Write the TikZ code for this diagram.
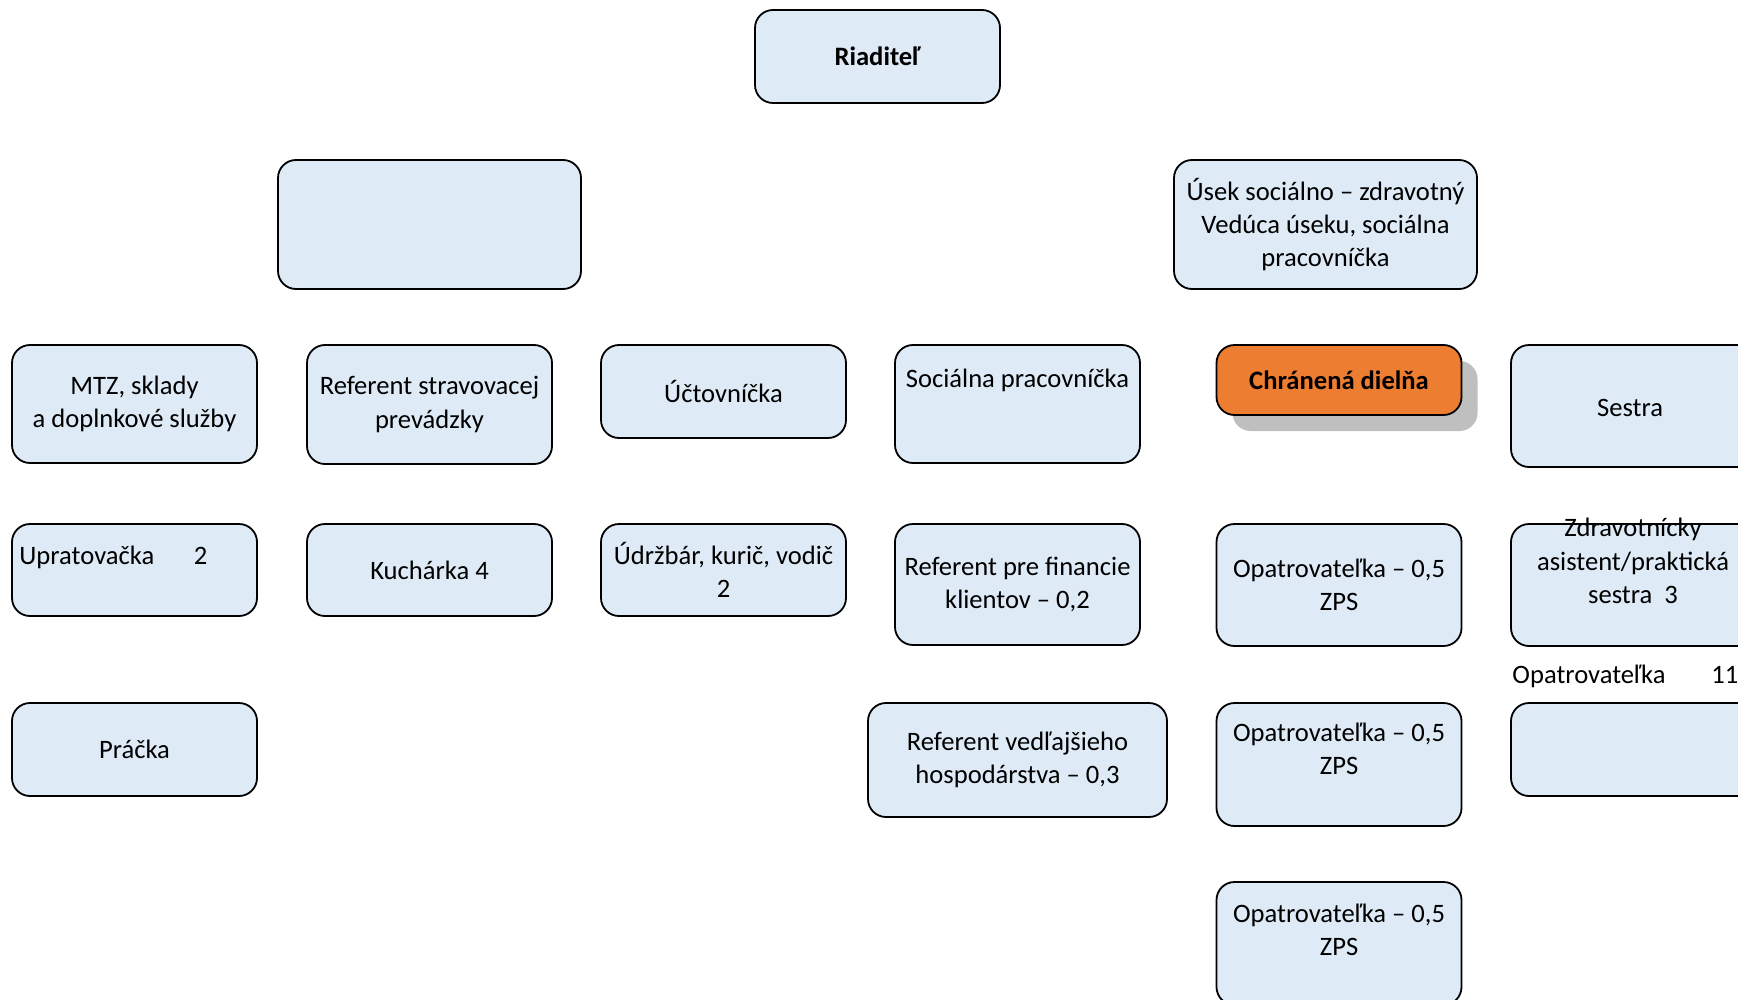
\documentclass[tikz,border=0pt]{standalone}
\usepackage{fontspec}
\setmainfont{Carlito}
\usetikzlibrary{shadows}
\definecolor{boxblue}{RGB}{222,235,247}
\definecolor{dielna}{RGB}{237,125,49}
\definecolor{tien}{RGB}{191,191,191}
\newcommand{\orgfont}{\fontsize{13.3}{16.6}\selectfont}
\begin{document}
\begin{tikzpicture}[x=0.5pt,y=-0.5pt,
    box/.style = {draw, fill=boxblue, line width=0.9pt, rounded corners=9pt,
                  inner sep=0pt, align=center, minimum width=122.5pt, font=\orgfont},
    txt/.style = {align=center, inner sep=0pt, font=\orgfont}]
    \useasboundingbox (0,0) rectangle (1738,1000);

    % vedenie
    \node[box, minimum height=46.5pt, font=\orgfont\bfseries] (riaditel) at (877.5,56.5) {Riaditeľ};
    \node[box, minimum width=151.5pt, minimum height=64.5pt] (ekon) at (429.5,224.5) {};
    \node[box, minimum width=151.5pt, minimum height=64.5pt] (usek) at (1325.5,224.5)
        {Úsek sociálno – zdravotný\\Vedúca úseku, sociálna\\pracovníčka};

    % druhy riadok
    \node[box, minimum height=59pt] (mtz) at (134.5,404) {MTZ, sklady\\a doplnkové služby};
    \node[box, minimum height=59.5pt] (strav) at (429.5,404.5) {Referent stravovacej\\prevádzky};
    \node[box, minimum height=46.5pt] (uctov) at (723.5,391.5) {Účtovníčka};
    \node[box, minimum height=59pt] (socprac) at (1017.5,404) {};
    \node[txt] (socprac-t) at (1017.5,380) {Sociálna pracovníčka};
    \node[box, fill=dielna, minimum height=35pt, font=\orgfont\bfseries,
          drop shadow={shadow xshift=8pt, shadow yshift=-8pt, fill=tien, opacity=1}]
        (dielna) at (1339,380) {Chránená dielňa};
    \node[box, minimum height=61pt] (sestra) at (1633.5,406) {};
    \node[txt] (sestra-t) at (1630,408) {Sestra};

    % treti riadok
    \node[box, minimum height=46pt] (uprat) at (134.5,570) {};
    \node[txt, anchor=west] (uprat-t) at (19,557) {\makebox[94pt][l]{Upratovačka\hfill 2}};
    \node[box, minimum height=46pt] (kuch) at (429.5,570) {Kuchárka 4};
    \node[box, minimum height=46pt] (udrz) at (723.5,570) {Údržbár, kurič, vodič\\2};
    \node[box, minimum height=60.5pt] (fin) at (1017.5,584.5) {Referent pre financie\\klientov – 0,2};
    \node[box, minimum height=61pt] (opatr1) at (1339,585) {Opatrovateľka – 0,5\\ZPS};
    \node[box, minimum height=61pt] (zdrav) at (1633.5,585) {};
    \node[txt] (zdrav-t) at (1633,561) {Zdravotnícky\\asistent/praktická\\sestra\ \ 3};
    \node[txt, anchor=base west] (opatr11) at (1512,683) {\makebox[113pt][l]{Opatrovateľka\hfill 11}};

    % stvrty riadok
    \node[box, minimum height=46.5pt] (pracka) at (134.5,749.5) {Práčka};
    \node[box, minimum width=149.5pt, minimum height=57pt] (vedl) at (1017.5,760)
        {Referent vedľajšieho\\hospodárstva – 0,3};
    \node[box, minimum height=61.5pt] (opatr2) at (1339,764.5) {};
    \node[txt] (opatr2-t) at (1339,749) {Opatrovateľka – 0,5\\ZPS};
    \node[box, minimum height=46.5pt] (prazdny) at (1633.5,749.5) {};

    % piaty riadok
    \node[box, minimum height=61.5pt] (opatr3) at (1339,943.5) {};
    \node[txt] (opatr3-t) at (1339,930) {Opatrovateľka – 0,5\\ZPS};
\end{tikzpicture}
\end{document}
